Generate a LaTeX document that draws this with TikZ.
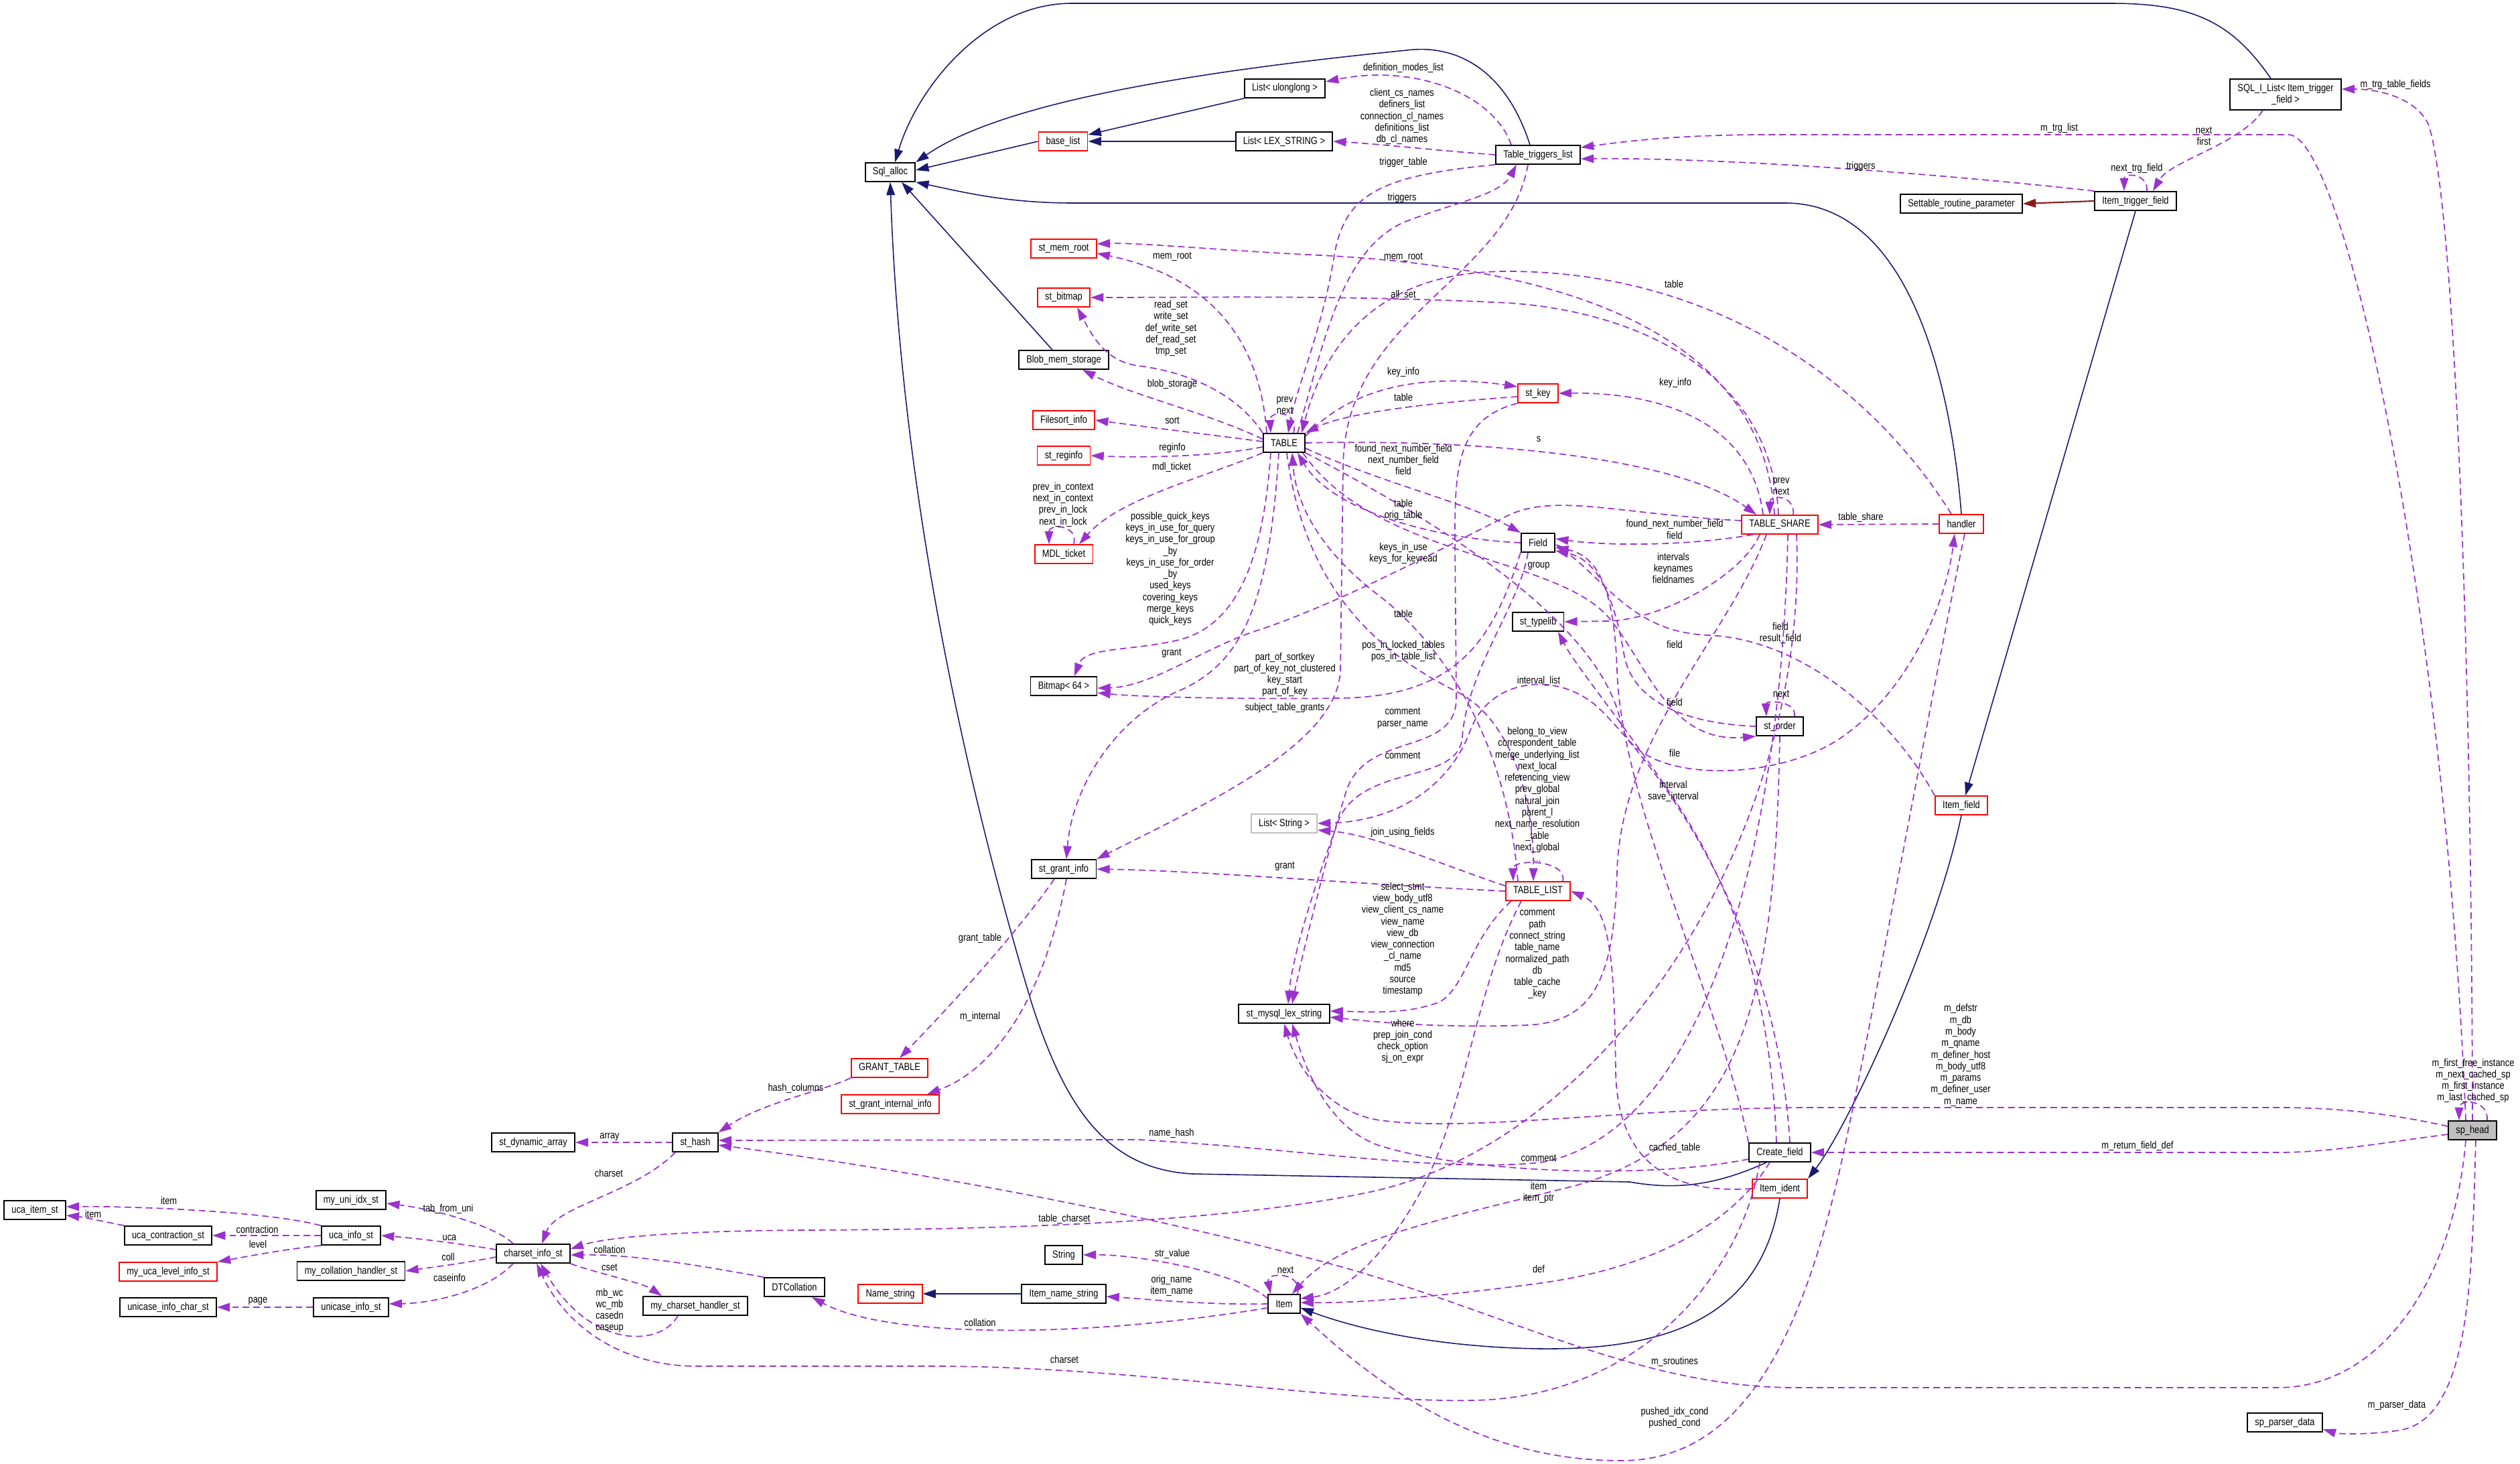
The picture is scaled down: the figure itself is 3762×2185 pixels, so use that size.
\documentclass[tikz,border=0pt]{standalone}
\usepackage{fontspec}
\setmainfont{Liberation Sans}[FakeStretch=0.83]
\usetikzlibrary{arrows.meta}
\definecolor{usecol}{HTML}{9A32CD}
\definecolor{inhcol}{HTML}{191970}
\definecolor{privcol}{HTML}{8B1A1A}
\newcommand{\dgfont}{\fontsize{4.4pt}{4.92pt}\selectfont}
\tikzset{
  cls/.style={draw=black, line width=0.5pt, fill=white, inner xsep=3.2pt, inner ysep=0pt, minimum height=0.28cm, font=\dgfont},
  redcls/.style={cls, draw=red},
  graycls/.style={cls, draw=black!25},
  lbl/.style={font=\dgfont, align=center, inner sep=0pt},
  use/.style={draw=usecol, line width=0.5pt, dash pattern=on 2.8pt off 1.7pt, -{Triangle[length=5.5pt,width=3.6pt]}},
  inh/.style={draw=inhcol, line width=0.45pt, -{Triangle[length=5.5pt,width=3.6pt]}},
  privinh/.style={draw=privcol, line width=0.6pt, -{Triangle[length=5.5pt,width=3.6pt]}},
}
\begin{document}
\begin{tikzpicture}[x=0.01cm,y=-0.01cm]
\useasboundingbox (0,0) rectangle (3762,2185);

\node[cls] (sqlAlloc) at (1329,257) {Sql\_alloc};
\node[redcls] (baseList) at (1587,211) {base\_list};
\node[cls] (listULL) at (1918,132) {List< ulonglong >};
\node[cls] (listLex) at (1917,211) {List< LEX\_STRING >};
\node[cls] (ttl) at (2296,231) {Table\_triggers\_list};
\node[cls, align=center, minimum height=0.46cm] (sqliList) at (3412,141) {SQL\_I\_List< Item\_trigger\\\_field >};
\node[cls] (settable) at (2928,304) {Settable\_routine\_parameter};
\node[cls] (itf) at (3188,300) {Item\_trigger\_field};
\node[redcls] (memRoot) at (1588,371) {st\_mem\_root};
\node[redcls] (stBitmap) at (1588,444) {st\_bitmap};
\node[cls] (blobMem) at (1588,537) {Blob\_mem\_storage};
\node[redcls] (filesort) at (1588,627) {Filesort\_info};
\node[redcls] (reginfo) at (1588,680) {st\_reginfo};
\node[redcls] (mdl) at (1588,827) {MDL\_ticket};
\node[cls] (table) at (1917,661) {TABLE};
\node[redcls] (stKey) at (2296,587) {st\_key};
\node[redcls] (tshare) at (2657,783) {TABLE\_SHARE};
\node[redcls] (handler) at (2928,782) {handler};
\node[cls] (field) at (2296,810) {Field};
\node[cls] (typelib) at (2296,928) {st\_typelib};
\node[cls] (bitmap64) at (1588,1024) {Bitmap< 64 >};
\node[cls] (order) at (2657,1084) {st\_order};
\node[graycls] (listStr) at (1917,1229) {List< String >};
\node[cls] (grantInfo) at (1588,1297) {st\_grant\_info};
\node[redcls] (tlist) at (2296,1330) {TABLE\_LIST};
\node[redcls] (itemField) at (2928,1202) {Item\_field};
\node[cls] (lexStr) at (1917,1513) {st\_mysql\_lex\_string};
\node[redcls] (grantTable) at (1328,1594) {GRANT\_TABLE};
\node[redcls] (grantInt) at (1329,1648) {st\_grant\_internal\_info};
\node[cls] (hash) at (1038,1705) {st\_hash};
\node[cls] (dynArr) at (796,1705) {st\_dynamic\_array};
\node[cls] (cfield) at (2657,1720) {Create\_field};
\node[redcls] (itemIdent) at (2657,1774) {Item\_ident};
\node[cls, fill=black!25] (sphead) at (3691,1687) {sp\_head};
\node[cls] (uniIdx) at (524,1791) {my\_uni\_idx\_st};
\node[cls] (ucaItem) at (52,1806) {uca\_item\_st};
\node[cls] (ucaContr) at (251,1844) {uca\_contraction\_st};
\node[cls] (ucaInfo) at (524,1844) {uca\_info\_st};
\node[redcls] (ucaLevel) at (251,1898) {my\_uca\_level\_info\_st};
\node[cls] (csInfo) at (796,1871) {charset\_info\_st};
\node[cls] (collHandler) at (524,1897) {my\_collation\_handler\_st};
\node[cls] (caseChar) at (251,1951) {unicase\_info\_char\_st};
\node[cls] (caseInfo) at (524,1951) {unicase\_info\_st};
\node[cls] (csHandler) at (1038,1949) {my\_charset\_handler\_st};
\node[cls] (dtColl) at (1186,1921) {DTCollation};
\node[cls] (string) at (1588,1873) {String};
\node[redcls] (nameStr) at (1329,1931) {Name\_string};
\node[cls] (itemNameStr) at (1588,1931) {Item\_name\_string};
\node[cls] (item) at (1917,1946) {Item};
\node[cls] (spParser) at (3411,2123) {sp\_parser\_data};

\draw[inh] (listULL.south west) -- ([yshift=0.1cm]baseList.east);
\draw[inh] (listLex.west) -- (baseList.east);
\draw[inh] (baseList.west) -- ([yshift=0.03cm]sqlAlloc.east);
\draw[inh] ([xshift=-0.12cm]ttl.north) .. controls (2250,110) and (2180,65) .. (2100,75) .. controls (1800,105) and (1500,150) .. (sqlAlloc.north east);
\draw[inh] ([xshift=-0.22cm]sqliList.north) .. controls (3330,30) and (3270,5) .. (3150,5) -- (1600,5) .. controls (1470,5) and (1370,130) .. ([xshift=0.07cm]sqlAlloc.north);
\draw[inh] (handler.north) .. controls (2915,600) and (2860,303) .. (2665,303) -- (1600,303) .. controls (1500,303) and (1430,285) .. (sqlAlloc.south east);
\draw[inh] ([xshift=-0.17cm]blobMem.north) -- ([xshift=0.17cm]sqlAlloc.south);
\draw[inh] ([xshift=-0.2cm]cfield.south) .. controls (2560,1770) and (2500,1776) .. (2433,1764) -- (1780,1752) .. controls (1650,1745) and (1590,1650) .. (1541,1500) .. controls (1450,1200) and (1345,750) .. (sqlAlloc.south);
\draw[privinh] (itf.west) -- (settable.east);
\draw[inh] (itf.south) -- ([xshift=0.06cm]itemField.north);
\draw[inh] (itemField.south) .. controls (2890,1400) and (2760,1680) .. (itemIdent.north east);
\draw[inh] (itemIdent.south) .. controls (2630,1960) and (2500,2015) .. (2300,2013) .. controls (2150,2011) and (2030,1985) .. ([yshift=-0.06cm]item.east);
\draw[inh] (itemNameStr.west) -- (nameStr.east);

\draw[use] ([xshift=-0.4cm]ttl.north) .. controls (2230,140) and (2110,95) .. ([yshift=0.1cm]listULL.east);
\draw[use] (ttl.west) .. controls (2150,225) and (2060,215) .. (listLex.east);
\draw[use] (ttl.south west) .. controls (2060,262) and (2008,290) .. (1992,380) .. controls (1975,490) and (1935,580) .. ([xshift=0.06cm]table.north);
\draw[use] ([xshift=0.2cm]table.north) .. controls (1975,520) and (2000,370) .. (2100,330) .. controls (2180,300) and (2240,290) .. ([xshift=-0.32cm]ttl.south);
\draw[use] (itf.north west) .. controls (2950,265) and (2600,235) .. ([yshift=-0.06cm]ttl.east);
\draw[use] ([xshift=-0.1cm]sphead.north) .. controls (3650,900) and (3500,205) .. (3417,201) -- (2640,201) .. controls (2500,201) and (2420,212) .. ([yshift=0.11cm]ttl.east);
\draw[use] (sphead.north) .. controls (3690,1000) and (3665,300) .. (3625,185) .. controls (3605,145) and (3550,133) .. ([yshift=0.08cm]sqliList.east);
\draw[use] ([xshift=0.22cm]sphead.north) .. controls (3715,1640) and (3671,1640) .. ([xshift=-0.2cm]sphead.north);
\draw[use] ([xshift=-0.34cm]sqliList.south) .. controls (3345,215) and (3240,240) .. ([xshift=0.26cm]itf.north);
\draw[use] ([xshift=0.17cm]itf.north) .. controls (3207,258) and (3171,258) .. ([xshift=-0.17cm]itf.north);
\draw[use] ([xshift=0.14cm]table.north) .. controls (1940,612) and (1895,612) .. ([xshift=-0.2cm]table.north);
\draw[use] ([xshift=-0.26cm]table.north) .. controls (1880,490) and (1790,410) .. ([yshift=-0.07cm]memRoot.east);
\draw[use] ([xshift=-0.08cm]tshare.north) .. controls (2630,480) and (2300,395) .. (1950,380) .. controls (1800,372) and (1700,362) .. ([yshift=0.07cm]memRoot.east);
\draw[use] (table.north west) .. controls (1845,585) and (1770,555) .. (1700,546) .. controls (1650,540) and (1630,500) .. ([xshift=0.2cm]stBitmap.south);
\draw[use] ([xshift=-0.02cm]tshare.north) .. controls (2645,560) and (2450,465) .. (2250,452) .. controls (2000,440) and (1800,444) .. (stBitmap.east);
\draw[use] ([xshift=-0.15cm]handler.north) .. controls (2790,570) and (2560,405) .. (2250,405) .. controls (2100,405) and (1990,470) .. ([xshift=0.26cm]table.north);
\draw[use] (table.170) .. controls (1800,615) and (1690,590) .. ([xshift=0.28cm]blobMem.south);
\draw[use] ([yshift=0.02cm]table.west) .. controls (1800,648) and (1710,637) .. (filesort.east);
\draw[use] ([yshift=-0.06cm]table.west) .. controls (1820,680) and (1720,684) .. (reginfo.east);
\draw[use] (table.south west) .. controls (1790,715) and (1670,745) .. ([xshift=0.23cm]mdl.north);
\draw[use] ([xshift=0.15cm]mdl.north) .. controls (1610,782) and (1566,782) .. ([xshift=-0.22cm]mdl.north);
\draw[use] ([xshift=-0.2cm]table.south) .. controls (1885,850) and (1840,935) .. (1760,955) .. controls (1690,972) and (1620,965) .. ([xshift=0.16cm]bitmap64.north);
\draw[use] ([xshift=-0.08cm]table.south) .. controls (1895,900) and (1855,990) .. (1760,1031) .. controls (1660,1075) and (1600,1180) .. ([xshift=0.04cm]grantInfo.north);
\draw[use] (field.south west) .. controls (2230,950) and (2180,1040) .. (2000,1042) .. controls (1850,1044) and (1700,1040) .. ([yshift=-0.1cm]bitmap64.east);
\draw[use] ([yshift=0.06cm]tshare.west) .. controls (2420,768) and (2320,735) .. (2250,770) .. controls (2150,820) and (2000,900) .. (1880,940) .. controls (1800,965) and (1720,1025) .. ([yshift=-0.03cm]bitmap64.east);
\draw[use] ([xshift=-0.15cm]ttl.south) .. controls (2250,420) and (2005,470) .. (2005,700) -- (2001,1000) .. controls (1998,1110) and (1800,1200) .. (grantInfo.north east);
\draw[use] ([yshift=0.1cm]table.east) .. controls (2010,585) and (2110,555) .. ([yshift=0.1cm]stKey.west);
\draw[use] ([yshift=-0.05cm]stKey.west) .. controls (2150,600) and (2010,615) .. (table.north east);
\draw[use] ([xshift=-0.25cm]tshare.north) .. controls (2615,630) and (2480,585) .. (stKey.east);
\draw[use] (table.east) .. controls (2200,655) and (2500,680) .. ([xshift=-0.35cm]tshare.north);
\draw[use] ([xshift=0.2cm]tshare.north) .. controls (2680,738) and (2642,738) .. ([xshift=-0.15cm]tshare.north);
\draw[use] ([yshift=-0.08cm]table.east) .. controls (2060,720) and (2190,750) .. (field.north west);
\draw[use] (field.west) .. controls (2150,805) and (1990,765) .. ([xshift=0.2cm]table.south);
\draw[use] ([xshift=-0.4cm]tshare.south) .. controls (2520,815) and (2400,815) .. ([yshift=0.06cm]field.east);
\draw[use] ([xshift=0.28cm]table.south) .. controls (2050,830) and (2320,830) .. (2400,920) .. controls (2460,990) and (2490,1110) .. (order.south west);
\draw[use] (table.south east) .. controls (2150,780) and (2390,930) .. (2420,1080) .. controls (2440,1170) and (2650,1170) .. (2750,1100) .. controls (2850,1030) and (2905,900) .. ([xshift=-0.1cm]handler.south);
\draw[use] ([xshift=-0.3cm]tshare.south) .. controls (2600,860) and (2480,925) .. (2400,927) -- (typelib.east);
\draw[use] ([xshift=-0.3cm]tlist.north) .. controls (2250,1100) and (2150,960) .. (2060,890) .. controls (1980,830) and (1935,760) .. ([xshift=0.12cm]table.south);
\draw[use] ([xshift=0.04cm]table.south) .. controls (1950,900) and (2080,985) .. (2180,1035) .. controls (2260,1080) and (2290,1200) .. ([xshift=-0.07cm]tlist.north);
\draw[use] ([xshift=0.37cm]tlist.north) .. controls (2340,1282) and (2258,1282) .. ([xshift=-0.37cm]tlist.north);
\draw[use] (tlist.west) .. controls (2000,1318) and (1800,1300) .. (grantInfo.east);
\draw[use] ([yshift=0.08cm]tlist.west) .. controls (2150,1290) and (2050,1245) .. ([yshift=-0.1cm]listStr.east);
\draw[use] ([xshift=0.15cm]cfield.north) .. controls (2650,1350) and (2450,1120) .. (2390,1060) .. controls (2330,1000) and (2225,1010) .. (2195,1090) .. controls (2170,1160) and (2100,1225) .. (listStr.east);
\draw[use] (stKey.south west) .. controls (2175,625) and (2172,700) .. (2172,800) -- (2174,1040) .. controls (2176,1130) and (2040,1090) .. (2010,1180) .. controls (1985,1260) and (1945,1420) .. ([xshift=0.12cm]lexStr.north);
\draw[use] ([xshift=-0.15cm]field.south) .. controls (2270,900) and (2190,1000) .. (2183,1100) .. controls (2178,1170) and (2040,1140) .. (2000,1220) .. controls (1970,1300) and (1930,1420) .. ([xshift=0.06cm]lexStr.north);
\draw[use] ([xshift=-0.4cm]tlist.south) .. controls (2195,1400) and (2190,1470) .. (2150,1495) .. controls (2100,1515) and (2040,1510) .. ([yshift=0.04cm]lexStr.east);
\draw[use] ([xshift=-0.2cm]tshare.south) .. controls (2580,950) and (2420,1100) .. (2414,1300) .. controls (2410,1460) and (2380,1525) .. (2280,1530) .. controls (2150,1535) and (2050,1525) .. ([yshift=-0.05cm]lexStr.east);
\draw[use] ([xshift=-0.25cm]tlist.south) .. controls (2200,1480) and (2190,1650) .. (2120,1780) .. controls (2070,1870) and (2010,1930) .. ([yshift=0.08cm]item.east);
\draw[use] (itemIdent.west) .. controls (2500,1782) and (2415,1740) .. (2412,1600) .. controls (2410,1440) and (2405,1355) .. (tlist.east);
\draw[use] ([yshift=-0.1cm]cfield.west) .. controls (2450,1762) and (2180,1748) .. (2060,1710) .. controls (1985,1685) and (1950,1600) .. ([xshift=0.12cm]lexStr.south);
\draw[use] ([yshift=0.06cm]sphead.west) .. controls (3560,1660) and (3480,1653) .. (3400,1653) -- (2700,1653) .. controls (2400,1655) and (2200,1690) .. (2060,1672) .. controls (1980,1660) and (1935,1590) .. (lexStr.south);
\draw[use] ([yshift=-0.06cm]sphead.west) .. controls (3560,1705) and (3480,1720) .. (3400,1720) -- (cfield.east);
\draw[use] ([xshift=-0.1cm]sphead.south) .. controls (3665,1900) and (3560,2071) .. (3400,2071) -- (2680,2071) .. controls (2450,2071) and (2250,1960) .. (2000,1890) .. controls (1700,1808) and (1350,1745) .. ([yshift=-0.04cm]hash.east);
\draw[use] ([xshift=0.05cm]sphead.south) .. controls (3690,1900) and (3690,2120) .. (3580,2135) .. controls (3530,2142) and (3490,2140) .. ([yshift=-0.1cm]spParser.east);
\draw[use] (handler.west) -- (tshare.east);
\draw[use] ([xshift=0.05cm]handler.south) .. controls (2890,1000) and (2810,1450) .. (2750,1730) .. controls (2690,2000) and (2600,2180) .. (2420,2180) .. controls (2200,2180) and (2050,2060) .. (item.south east);
\draw[use] (itemField.north west) .. controls (2830,1080) and (2700,955) .. (2550,948) .. controls (2440,944) and (2400,870) .. ([yshift=-0.02cm]field.east);
\draw[use] (cfield.north west) .. controls (2570,1500) and (2420,1200) .. (2414,1000) .. controls (2410,890) and (2390,830) .. ([yshift=-0.07cm]field.east);
\draw[use] (order.west) .. controls (2520,1080) and (2440,1050) .. (2425,980) .. controls (2410,890) and (2385,835) .. ([yshift=-0.12cm]field.east);
\draw[use] ([xshift=-0.05cm]cfield.north) .. controls (2640,1400) and (2540,1250) .. (2470,1150) .. controls (2400,1050) and (2350,990) .. ([xshift=0.3cm]typelib.south);
\draw[use] ([xshift=0.22cm]order.north) .. controls (2682,1045) and (2636,1045) .. ([xshift=-0.2cm]order.north);
\draw[use] (order.south) .. controls (2650,1500) and (2600,1700) .. (2350,1770) .. controls (2150,1820) and (2000,1850) .. ([xshift=0.12cm]item.north);
\draw[use] ([xshift=-0.15cm]cfield.south) .. controls (2590,1820) and (2480,1890) .. (2300,1915) .. controls (2150,1935) and (2030,1945) .. ([yshift=0.02cm]item.east);
\draw[use] ([yshift=0.08cm]item.west) .. controls (1850,1900) and (1700,1872) .. (string.east);
\draw[use] (item.west) .. controls (1800,1948) and (1700,1938) .. ([yshift=-0.04cm]itemNameStr.east);
\draw[use] ([xshift=0.2cm]item.north) .. controls (1945,1898) and (1890,1898) .. ([xshift=-0.2cm]item.north);
\draw[use] ([yshift=-0.06cm]item.west) .. controls (1600,2000) and (1320,1995) .. ([xshift=0.26cm]dtColl.south);
\draw[use] ([xshift=-0.3cm]cfield.south) .. controls (2600,1900) and (2450,2085) .. (2200,2090) .. controls (2000,2094) and (1700,2040) .. (1400,2039) -- (1040,2039) .. controls (940,2039) and (850,1990) .. ([xshift=0.05cm]csInfo.south);
\draw[use] ([xshift=0.25cm]tshare.south) .. controls (2700,1250) and (2400,1700) .. (2050,1778) .. controls (1800,1832) and (1400,1835) .. (1200,1836) .. controls (1000,1837) and (900,1848) .. ([yshift=0.07cm]csInfo.east);
\draw[use] ([xshift=0.12cm]tshare.south) .. controls (2660,1250) and (2550,1690) .. (2300,1735) .. controls (2150,1750) and (1950,1715) .. (1700,1701) -- ([yshift=0.03cm]hash.east);
\draw[use] ([xshift=-0.26cm]csHandler.south) .. controls (985,2012) and (880,2012) .. ([xshift=0.11cm]csInfo.south);
\draw[use] (csInfo.south east) .. controls (890,1900) and (960,1915) .. ([xshift=-0.5cm]csHandler.north);
\draw[use] (dtColl.north west) .. controls (1050,1890) and (950,1872) .. ([yshift=-0.02cm]csInfo.east);
\draw[use] ([xshift=-0.3cm]hash.south) .. controls (950,1780) and (830,1800) .. ([xshift=0.13cm]csInfo.north);
\draw[use] (hash.west) -- (dynArr.east);
\draw[use] (grantTable.south west) .. controls (1230,1628) and (1140,1645) .. (hash.north east);
\draw[use] ([xshift=-0.14cm]grantInfo.south) .. controls (1520,1390) and (1420,1500) .. ([xshift=0.15cm]grantTable.north);
\draw[use] ([xshift=0.04cm]grantInfo.south) .. controls (1565,1460) and (1500,1590) .. ([xshift=0.55cm]grantInt.north);
\draw[use] ([xshift=-0.3cm]csInfo.north) .. controls (740,1830) and (650,1805) .. ([yshift=-0.05cm]uniIdx.east);
\draw[use] ([yshift=0.06cm]csInfo.west) .. controls (680,1855) and (620,1848) .. (ucaInfo.east);
\draw[use] ([yshift=-0.05cm]csInfo.west) .. controls (690,1886) and (640,1892) .. (collHandler.east);
\draw[use] ([xshift=-0.3cm]csInfo.south) .. controls (730,1925) and (650,1945) .. ([yshift=0.05cm]caseInfo.east);
\draw[use] (ucaInfo.north west) .. controls (400,1808) and (200,1800) .. ([yshift=0.05cm]ucaItem.east);
\draw[use] (ucaContr.north west) .. controls (150,1822) and (120,1816) .. ([yshift=-0.08cm]ucaItem.east);
\draw[use] (ucaInfo.west) -- (ucaContr.east);
\draw[use] (ucaInfo.south west) .. controls (420,1865) and (360,1877) .. (ucaLevel.north east);
\draw[use] (caseInfo.west) -- (caseChar.east);

\node[lbl] (lDefModes) at (2095,101) {definition\_modes\_list};
\node[lbl] (lListLex) at (2093,174) {client\_cs\_names\\definers\_list\\connection\_cl\_names\\definitions\_list\\db\_cl\_names};
\node[lbl] (lTrigTable) at (2095,243) {trigger\_table};
\node[lbl] (lTriggers) at (2093,296) {triggers};
\node[lbl] (lTrgList) at (3074,192) {m\_trg\_list};
\node[lbl] (lNextFirst) at (3290,203) {next\\first};
\node[lbl] (lTriggers2) at (2778,248) {triggers};
\node[lbl] (lNextTrg) at (3190,252) {next\_trg\_field};
\node[lbl] (lTrgFields) at (3576,127) {m\_trg\_table\_fields};
\node[lbl] (lMemRoot) at (1750,383) {mem\_root};
\node[lbl] (lMemRoot2) at (2095,384) {mem\_root};
\node[lbl] (lAllSet) at (2095,440) {all\_set};
\node[lbl] (lSets) at (1748,490) {read\_set\\write\_set\\def\_write\_set\\def\_read\_set\\tmp\_set};
\node[lbl] (lBlob) at (1750,573) {blob\_storage};
\node[lbl] (lSort) at (1750,628) {sort};
\node[lbl] (lReginfo) at (1750,668) {reginfo};
\node[lbl] (lMdl) at (1749,697) {mdl\_ticket};
\node[lbl] (lMdlLoop) at (1587,753) {prev\_in\_context\\next\_in\_context\\prev\_in\_lock\\next\_in\_lock};
\node[lbl] (lTableLoop) at (1918,605) {prev\\next};
\node[lbl] (lKeys) at (1747,849) {possible\_quick\_keys\\keys\_in\_use\_for\_query\\keys\_in\_use\_for\_group\\\_by\\keys\_in\_use\_for\_order\\\_by\\used\_keys\\covering\_keys\\merge\_keys\\quick\_keys};
\node[lbl] (lGrant) at (1749,975) {grant};
\node[lbl] (lPartKey) at (1918,1007) {part\_of\_sortkey\\part\_of\_key\_not\_clustered\\key\_start\\part\_of\_key};
\node[lbl] (lSubject) at (1918,1056) {subject\_table\_grants};
\node[lbl] (lKeyInfo) at (2095,555) {key\_info};
\node[lbl] (lKeyTable) at (2095,593) {table};
\node[lbl] (lKeyInfo2) at (2501,571) {key\_info};
\node[lbl] (lS) at (2297,655) {s};
\node[lbl] (lNextNum) at (2095,686) {found\_next\_number\_field\\next\_number\_field\\field};
\node[lbl] (lShareLoop) at (2659,726) {prev\\next};
\node[lbl] (lOrigTable) at (2095,761) {table\\orig\_table};
\node[lbl] (lFoundNext) at (2500,790) {found\_next\_number\_field\\field};
\node[lbl] (lKeysInUse) at (2095,826) {keys\_in\_use\\keys\_for\_keyread};
\node[lbl] (lGroup) at (2297,845) {group};
\node[lbl] (lIntervals) at (2498,848) {intervals\\keynames\\fieldnames};
\node[lbl] (lListTable) at (2095,916) {table};
\node[lbl] (lPosIn) at (2095,972) {pos\_in\_locked\_tables\\pos\_in\_table\_list};
\node[lbl] (lResField) at (2658,945) {field\\result\_field};
\node[lbl] (lCfField) at (2500,962) {field};
\node[lbl] (lHandlerTable) at (2499,424) {table};
\node[lbl] (lTableShare) at (2778,772) {table\_share};
\node[lbl] (lIntervalList) at (2297,1016) {interval\_list};
\node[lbl] (lParser) at (2094,1072) {comment\\parser\_name};
\node[lbl] (lFieldComment) at (2094,1128) {comment};
\node[lbl] (lJoinUsing) at (2094,1242) {join\_using\_fields};
\node[lbl] (lListLoop) at (2295,1186) {belong\_to\_view\\correspondent\_table\\merge\_underlying\_list\\next\_local\\referencing\_view\\prev\_global\\natural\_join\\parent\_l\\next\_name\_resolution\\\_table\\next\_global\\...};
\node[lbl] (lOrderField) at (2500,1048) {field};
\node[lbl] (lFile) at (2500,1124) {file};
\node[lbl] (lInterval) at (2498,1181) {interval\\save\_interval};
\node[lbl] (lOrderNext) at (2659,1036) {next};
\node[lbl] (lListGrant) at (1918,1293) {grant};
\node[lbl] (lSelect) at (2094,1402) {select\_stmt\\view\_body\_utf8\\view\_client\_cs\_name\\view\_name\\view\_db\\view\_connection\\\_cl\_name\\md5\\source\\timestamp};
\node[lbl] (lSharePath) at (2295,1424) {comment\\path\\connect\_string\\table\_name\\normalized\_path\\db\\table\_cache\\\_key};
\node[lbl] (lWhere) at (2094,1554) {where\\prep\_join\_cond\\check\_option\\sj\_on\_expr};
\node[lbl] (lCached) at (2500,1713) {cached\_table};
\node[lbl] (lCfComment) at (2297,1729) {comment};
\node[lbl] (lItemPtr) at (2297,1780) {item\\item\_ptr};
\node[lbl] (lDef) at (2297,1894) {def};
\node[lbl] (lSroutines) at (2500,2032) {m\_sroutines};
\node[lbl] (lPushed) at (2500,2116) {pushed\_idx\_cond\\pushed\_cond};
\node[lbl] (lSpStrings) at (2927,1575) {m\_defstr\\m\_db\\m\_body\\m\_qname\\m\_definer\_host\\m\_body\_utf8\\m\_params\\m\_definer\_user\\m\_name};
\node[lbl] (lSpLoop) at (3692,1613) {m\_first\_free\_instance\\m\_next\_cached\_sp\\m\_first\_instance\\m\_last\_cached\_sp};
\node[lbl] (lReturnDef) at (3191,1710) {m\_return\_field\_def};
\node[lbl] (lParserData) at (3578,2097) {m\_parser\_data};
\node[lbl] (lGrantTable) at (1463,1400) {grant\_table};
\node[lbl] (lInternal) at (1463,1517) {m\_internal};
\node[lbl] (lHashCols) at (1188,1624) {hash\_columns};
\node[lbl] (lNameHash) at (1749,1691) {name\_hash};
\node[lbl] (lTableCharset) at (1589,1819) {table\_charset};
\node[lbl] (lStrValue) at (1750,1871) {str\_value};
\node[lbl] (lItemNext) at (1919,1896) {next};
\node[lbl] (lItemName) at (1749,1919) {orig\_name\\item\_name};
\node[lbl] (lCollation) at (1463,1974) {collation};
\node[lbl] (lCharset) at (1589,2029) {charset};
\node[lbl] (lArray) at (910,1697) {array};
\node[lbl] (lHashCharset) at (909,1751) {charset};
\node[lbl] (lItem1) at (252,1792) {item};
\node[lbl] (lItem2) at (139,1812) {item};
\node[lbl] (lTabFromUni) at (669,1804) {tab\_from\_uni};
\node[lbl] (lContraction) at (384,1835) {contraction};
\node[lbl] (lLevel) at (385,1857) {level};
\node[lbl] (lUca) at (671,1847) {uca};
\node[lbl] (lDtColl) at (910,1865) {collation};
\node[lbl] (lColl) at (669,1876) {coll};
\node[lbl] (lCset) at (910,1892) {cset};
\node[lbl] (lCaseinfo) at (671,1907) {caseinfo};
\node[lbl] (lMbWc) at (910,1956) {mb\_wc\\wc\_mb\\casedn\\caseup};
\node[lbl] (lPage) at (385,1942) {page};
\end{tikzpicture}
\end{document}
